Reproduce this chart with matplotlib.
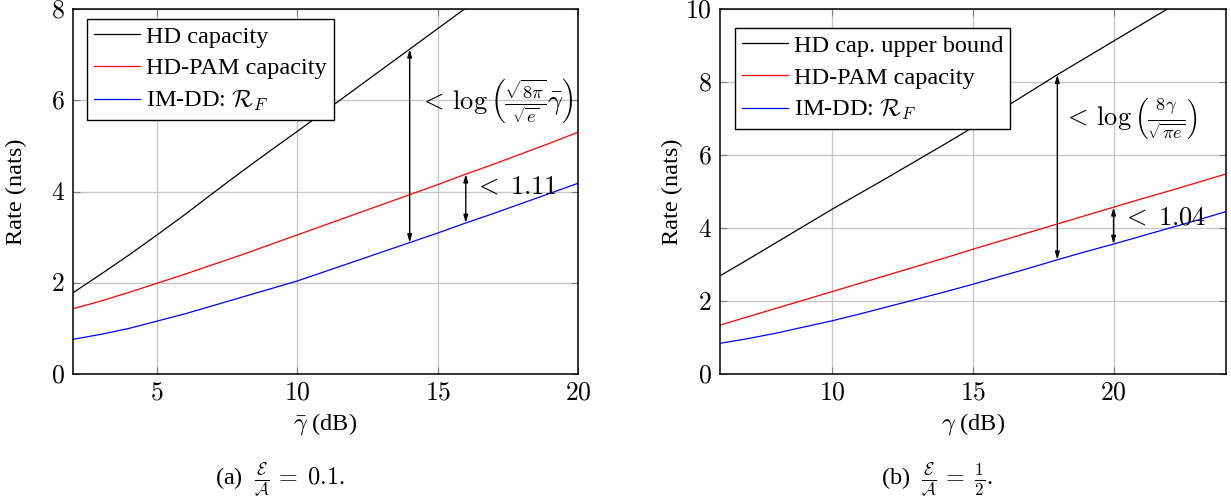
import numpy as np
import matplotlib
matplotlib.use("Agg")
import matplotlib.pyplot as plt
from matplotlib.ticker import FuncFormatter

plt.rcParams['font.family'] = 'serif'
plt.rcParams['font.serif'] = ['Liberation Serif', 'DejaVu Serif']
plt.rcParams['mathtext.fontset'] = 'cm'

# (a) E/A = 0.1, average SNR in dB
snr_a = [2, 3, 4, 5, 6, 7, 8, 9, 10, 11, 12, 13, 14, 15, 16, 17, 18, 19, 20]
hd_cap_a = [1.78, 2.19, 2.61, 3.05, 3.5, 3.97, 4.43, 4.88, 5.32, 5.77, 6.22,
            6.67, 7.12, 7.57, 8.02, 8.47, 8.92, 9.37, 9.82]
pam_cap_a = [1.43, 1.6, 1.79, 1.99, 2.19, 2.4, 2.61, 2.83, 3.05, 3.27, 3.49,
             3.71, 3.93, 4.15, 4.38, 4.6, 4.83, 5.06, 5.30]
imdd_a = [0.76, 0.87, 1.0, 1.16, 1.32, 1.5, 1.68, 1.86, 2.04, 2.25, 2.46,
          2.67, 2.88, 3.09, 3.31, 3.52, 3.74, 3.96, 4.18]

# (b) E/A = 1/2, peak SNR in dB
snr_b = [6, 7, 8, 9, 10, 11, 12, 13, 14, 15, 16, 17, 18, 19, 20, 21, 22, 23, 24]
hd_ub_b = [2.69, 3.14, 3.6, 4.06, 4.52, 4.96, 5.4, 5.85, 6.3, 6.76, 7.24,
           7.72, 8.2, 8.66, 9.12, 9.58, 10.04, 10.5, 10.96]
pam_cap_b = [1.34, 1.57, 1.8, 2.03, 2.26, 2.49, 2.72, 2.95, 3.18, 3.42, 3.65,
             3.88, 4.11, 4.34, 4.57, 4.8, 5.02, 5.25, 5.48]
imdd_b = [0.84, 0.97, 1.12, 1.29, 1.46, 1.65, 1.85, 2.05, 2.25, 2.46, 2.68,
          2.9, 3.13, 3.35, 3.56, 3.78, 4.0, 4.22, 4.45]

FS = 17.5


def gap_arrow(ax, x, ylo, yhi):
    ax.annotate('', xy=(x, yhi), xytext=(x, ylo),
                arrowprops=dict(arrowstyle='<|-|>,head_length=0.45,head_width=0.13',
                                color='black', lw=1.0, shrinkA=0, shrinkB=0))


def style_axes(ax, xlim, ylim, xticks, yticks, ylab_x):
    ax.set_xlim(*xlim)
    ax.set_ylim(*ylim)
    ax.set_xticks(xticks)
    ax.set_yticks(yticks)
    fmt = FuncFormatter(lambda v, p: f'${v:g}$')
    ax.xaxis.set_major_formatter(fmt)
    ax.yaxis.set_major_formatter(fmt)
    ax.grid(True, color='#c8c8c8', lw=1.0)
    ax.set_axisbelow(True)
    ax.tick_params(direction='in', top=True, right=True, length=5,
                   color='#7f7f7f', labelsize=18.5, pad=6)
    for s in ax.spines.values():
        s.set_linewidth(1.1)
    ax.set_ylabel('Rate (nats)', fontsize=FS)
    ax.yaxis.set_label_coords(ylab_x, 0.5)


fig = plt.figure(figsize=(12.31, 4.99), dpi=100)
ax1 = fig.add_axes([73 / 1231, 125 / 499, 505 / 1231, 365 / 499])
ax2 = fig.add_axes([720 / 1231, 125 / 499, 506 / 1231, 365 / 499])

# left panel
ax1.plot(snr_a, hd_cap_a, color='black', lw=0.9, label='HD capacity')
ax1.plot(snr_a, pam_cap_a, color='red', lw=0.9, label='HD-PAM capacity')
ax1.plot(snr_a, imdd_a, color='blue', lw=0.9, label=r'IM-DD: $\mathcal{R}_F$')
style_axes(ax1, (2, 20), (0, 8), [5, 10, 15, 20], [0, 2, 4, 6, 8], -0.092)
ax1.set_xlabel(r'$\bar{\gamma}$ (dB)', fontsize=FS, labelpad=5)
i14, i16 = snr_a.index(14), snr_a.index(16)
gap_arrow(ax1, 14, imdd_a[i14], hd_cap_a[i14])
gap_arrow(ax1, 16, imdd_a[i16], pam_cap_a[i16])
ax1.text(14.35, 6.0, r'$<\,\log\left(\frac{\sqrt{8\pi}}{\sqrt{e}}\bar{\gamma}\right)$',
         fontsize=19, va='center', ha='left')
ax1.text(16.3, 4.08, r'$<\;1.11$', fontsize=19, va='center', ha='left')

# right panel
ax2.plot(snr_b, hd_ub_b, color='black', lw=0.9, label='HD cap. upper bound')
ax2.plot(snr_b, pam_cap_b, color='red', lw=0.9, label='HD-PAM capacity')
ax2.plot(snr_b, imdd_b, color='blue', lw=0.9, label=r'IM-DD: $\mathcal{R}_F$')
style_axes(ax2, (6, 24), (0, 10), [10, 15, 20], [0, 2, 4, 6, 8, 10], -0.074)
ax2.set_xlabel(r'$\gamma$ (dB)', fontsize=FS, labelpad=5)
i18, i20 = snr_b.index(18), snr_b.index(20)
gap_arrow(ax2, 18, imdd_b[i18], hd_ub_b[i18])
gap_arrow(ax2, 20, imdd_b[i20], pam_cap_b[i20])
ax2.text(18.2, 7.0, r'$<\,\log\left(\frac{8\gamma}{\sqrt{\pi e}}\right)$',
         fontsize=19, va='center', ha='left')
ax2.text(20.3, 4.27, r'$<\;1.04$', fontsize=19, va='center', ha='left')

for ax, anchor in ((ax1, (0.028, 0.973)), (ax2, (0.03, 0.948))):
    leg = ax.legend(loc='upper left', bbox_to_anchor=anchor, borderaxespad=0,
                    fontsize=FS, fancybox=False, framealpha=1, edgecolor='black',
                    handlelength=1.9, handletextpad=0.25, labelspacing=0.4,
                    borderpad=0.28)
    leg.get_frame().set_linewidth(1.0)

fig.text(280 / 1231, 1 - 480 / 499, r'(a)  $\frac{\mathcal{E}}{\mathcal{A}}\,=\;0.1$.',
         fontsize=FS, ha='center', va='center')
fig.text(937 / 1231, 1 - 480 / 499, r'(b)  $\frac{\mathcal{E}}{\mathcal{A}}\,=\;\frac{1}{2}$.',
         fontsize=FS, ha='center', va='center')

fig.savefig('out.png', dpi=100)
